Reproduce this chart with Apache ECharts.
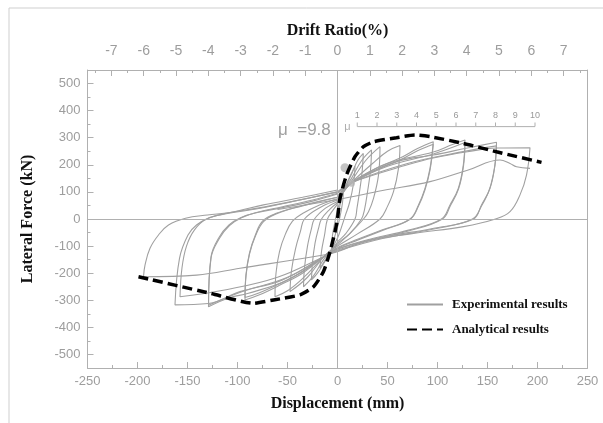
<!DOCTYPE html>
<html>
<head>
<meta charset="utf-8">
<script src="https://cdn.jsdelivr.net/npm/echarts@6/dist/echarts.min.js"></script>
<style>
  html, body { margin: 0; padding: 0; background: #fff; }
  #chart { width: 603px; height: 423px; }
</style>
</head>
<body>
<div id="chart"></div>
<script>
// axis scales
var forceMajor = [-500, -400, -300, -200, -100, 0, 100, 200, 300, 400, 500];
var forceMinor = [-450, -350, -250, -150, -50, 50, 150, 250, 350, 450];
var driftLabels = [-7, -6, -5, -4, -3, -2, -1, 0, 1, 2, 3, 4, 5, 6, 7];
var driftHalf = [-7.5, -6.5, -5.5, -4.5, -3.5, -2.5, -1.5, -0.5, 0.5, 1.5, 2.5, 3.5, 4.5, 5.5, 6.5, 7.5];
var mmPerDrift = 32.3;   // 1 % drift = 32.3 mm

// ductility scale
var muLabels = [1, 2, 3, 4, 5, 6, 7, 8, 9, 10];
var muYieldDisp = 19.75;
var muLevel = 341;

// experimental hysteresis loops [disp mm, force kN]
var loop0 = [[0, 0], [4, 80], [6, 110], [5, 60], [2, 0], [0, -30], [-4, -80], [-6, -110], [-5, -60], [-2, 0], [0, 35]];
var loop1 = [[0, 35], [8, 120], [17.5, 195], [16, 130], [12, 60], [8, 15], [4, -30], [0, -70], [-8, -125], [-17.5, -182],
  [-16, -120], [-13, -60], [-10, 0], [-5, 30], [0, 55]];
var loop2 = [[0, 55], [8, 120], [14, 165], [20, 215], [25.8, 242], [24.5, 170], [22, 100], [19.5, 40], [17.5, 0], [8, -55],
  [0, -85], [-8, -130], [-14, -165], [-20, -200], [-26, -225], [-25, -160], [-22.5, -90], [-19, -35], [-16, 0], [-8, 35], [0, 60]];
var loop3 = [[0, 60], [8, 115], [14, 150], [24, 215], [34, 255], [33, 180], [30, 100], [27, 35], [24, 0], [12, -55],
  [0, -90], [-8, -125], [-14, -150], [-24, -210], [-34, -250], [-33, -180], [-30, -100], [-26, -35], [-23, 0], [-12, 40], [0, 65]];
var loop4 = [[0, 65], [8, 110], [14, 140], [28, 215], [42.5, 267], [41, 162], [36, 76], [31, 27], [26, 0], [12, -55],
  [0, -95], [-8, -120], [-14, -140], [-30, -215], [-47.5, -268], [-46, -190], [-42, -110], [-37, -45], [-33, 0], [-16, 45], [0, 70]];
var loop5 = [[0, 70], [8, 110], [14, 135], [35, 205], [50, 250], [62.5, 271], [61, 187], [56, 101], [49, 39], [42.5, 0],
  [20, -55], [0, -100], [-8, -120], [-14, -140], [-35, -220], [-50, -265], [-62.5, -287], [-61.5, -200], [-58, -120],
  [-52, -55], [-45, -8], [-35, 20], [-18, 52], [0, 75]];
var loop6 = [[0, 75], [8, 110], [14, 135], [40, 190], [62.5, 225], [80, 260], [95.8, 285], [92.5, 187], [87.5, 113],
  [81, 52], [72.5, 0], [45, -40], [20, -75], [0, -105], [-8, -125], [-14, -140], [-35, -200], [-57.5, -244], [-78, -280],
  [-92.5, -299], [-91.5, -210], [-88, -130], [-82, -62], [-74, -10], [-62, 18], [-35, 50], [0, 80]];
var loop6b = [[0, 78], [14, 132], [40, 185], [62.5, 218], [80, 252], [95.8, 276], [92.5, 180], [87.5, 108], [81, 48],
  [73, 0], [45, -42], [20, -78], [0, -108], [-14, -140], [-35, -195], [-57.5, -238], [-78, -272], [-92.5, -290],
  [-91.5, -205], [-88, -125], [-82, -58], [-75, -8], [-62, 20], [-35, 48], [0, 80]];
var loop7 = [[0, 80], [8, 112], [14, 135], [50, 205], [95.8, 247], [115, 275], [127.5, 291.5], [125.8, 199], [120.8, 113],
  [112.5, 52], [104, 0], [70, -42], [35, -72], [0, -110], [-8, -128], [-14, -140], [-50, -225], [-90, -275], [-107.5, -290],
  [-129, -324], [-126.5, -145], [-118, -71], [-108, -24], [-96, 5], [-80, 25], [-55, 45], [-25, 70], [0, 95]];
var loop7b = [[0, 85], [14, 132], [50, 195], [95.8, 240], [127.5, 282], [126, 195], [121, 110], [113, 50], [105, 0],
  [70, -45], [35, -75], [0, -112], [-14, -140], [-50, -215], [-95, -268], [-129, -318], [-126.5, -140], [-118.5, -68],
  [-108.5, -22], [-97, 5], [-80, 24], [-55, 42], [-25, 66], [0, 92]];
var loop8 = [[0, 95], [8, 118], [14, 135], [60, 212], [95.8, 236], [130, 262], [159, 283], [157.5, 199], [152.5, 113],
  [144, 52], [136, 0], [95, -35], [45, -68], [0, -115], [-8, -130], [-14, -140], [-55, -225], [-97.5, -268], [-129, -312],
  [-162.5, -317], [-158, -145], [-149.5, -59], [-141, -22], [-128, 5], [-110, 22], [-80, 40], [-45, 65], [0, 100]];
var loop8b = [[0, 100], [14, 135], [70, 205], [120, 245], [159, 270], [157, 190], [152, 110], [144, 48], [135, 0],
  [95, -38], [45, -72], [0, -118], [-14, -140], [-60, -215], [-110, -260], [-157.5, -287], [-155.5, -180], [-151, -100],
  [-143, -40], [-131, 0], [-110, 20], [-80, 38], [-40, 68], [0, 100]];
var loop9 = [[0, 100], [8, 118], [14, 135], [70, 200], [95.8, 225], [130, 248], [159, 262], [192.5, 263], [189, 162],
  [182.5, 89], [172.5, 27], [158, 0], [126, -28], [76, -53], [26, -84], [0, -121], [-14, -133], [-97.5, -182],
  [-141, -207], [-194, -213], [-192.5, -170], [-187.5, -108], [-179, -59], [-169, -22], [-152, 3], [-130, 15],
  [-107.5, 24], [-74, 52], [-35, 80], [0, 107]];
var loop10 = [[-60, 35], [0, 72], [45, 105], [92.5, 138], [130, 180], [162.5, 218], [172.5, 205], [179, 193], [192.5, 187]];

var experimentalLoops = [loop0, loop1, loop2, loop3, loop4, loop5, loop6, loop6b, loop7, loop7b, loop8, loop8b, loop9, loop10];

// analytical backbone
var analytical = [[-199, -213], [-127.5, -274], [-84, -311], [-64, -299], [-37.5, -280], [-24, -250], [-14, -194],
  [-7.5, -121], [-2.5, -47], [0, 0], [2.5, 76], [9, 162], [17.5, 230], [26, 267], [36, 285], [59, 300], [77.5, 310],
  [92.5, 304], [126, 279], [159, 248], [204, 209]];

// yield markers
var yieldPoints = [[7.5, 189], [14, 132]];

var chart = echarts.init(document.getElementById('chart'));

var gray = '#a0a0a0';
var axisGray = '#b0b0b0';
var serif = '"Liberation Serif", "DejaVu Serif", serif';
var sans = 'Arial, "Liberation Sans", sans-serif';

var series = [];
experimentalLoops.forEach(function (lp, i) {
  series.push({
    name: 'Experimental results',
    type: 'line',
    data: lp,
    smooth: 0.4,
    symbol: 'none',
    z: 2,
    lineStyle: { color: gray, width: 1.1 },
    itemStyle: { color: gray },
    markLine: i === 0 ? {
      silent: true,
      symbol: 'none',
      label: { show: false },
      lineStyle: { color: axisGray, width: 1, type: 'solid' },
      data: [{ xAxis: 0 }, { yAxis: 0 }]
    } : undefined
  });
});

series.push({
  name: 'Analytical results',
  type: 'line',
  data: analytical,
  smooth: 0.2,
  symbol: 'none',
  z: 5,
  lineStyle: { color: '#000', width: 3.5, type: [10, 5] },
  itemStyle: { color: '#000' }
});

series.push({
  name: 'yield',
  type: 'scatter',
  data: yieldPoints,
  symbolSize: function (v, p) { return p.dataIndex === 0 ? 9 : 7; },
  itemStyle: { color: '#b5b5b5' },
  z: 4
});

// ductility scale
series.push({
  name: 'mu',
  type: 'line',
  data: muLabels.map(function (m) { return [m * muYieldDisp, muLevel]; }),
  symbol: 'rect',
  symbolSize: [1, 4],
  symbolOffset: [0, -2],
  lineStyle: { color: axisGray, width: 1 },
  itemStyle: { color: axisGray },
  label: {
    show: true,
    position: 'top',
    distance: 3,
    color: '#999',
    fontSize: 9,
    fontFamily: sans,
    formatter: function (p) { return muLabels[p.dataIndex]; }
  },
  z: 3
});
series.push({
  name: 'muSymbol',
  type: 'scatter',
  data: [[muYieldDisp * 0.5, muLevel]],
  symbolSize: 0,
  label: {
    show: true,
    position: 'inside',
    formatter: 'μ',
    color: '#999',
    fontSize: 11,
    fontFamily: sans
  }
});

var labelStyle = { color: '#9d9d9d', fontSize: 13, fontFamily: sans };

chart.setOption({
  animation: false,
  backgroundColor: '#fff',
  grid: { left: 87.5, right: 15.5, top: 70, bottom: 55 },
  graphic: [{
    type: 'rect',
    shape: { x: 9, y: 8, width: 700, height: 500 },
    style: { fill: 'none', stroke: '#cfcfcf', lineWidth: 1 },
    silent: true
  }, {
    type: 'text',
    left: 278,
    top: 122,
    style: { text: 'μ  =9.8', fill: '#a0a0a0', fontSize: 17, fontFamily: sans },
    silent: true
  }],
  legend: {
    data: ['Experimental results', 'Analytical results'],
    orient: 'vertical',
    left: 401,
    top: 293,
    itemWidth: 36,
    itemHeight: 14,
    itemGap: 12,
    itemStyle: { opacity: 0 },
    textStyle: { color: '#111', fontFamily: serif, fontWeight: 'bold', fontSize: 13, padding: [0, 0, 0, 4] }
  },
  xAxis: [{
    type: 'value',
    min: -250,
    max: 250,
    interval: 50,
    position: 'bottom',
    name: 'Displacement (mm)',
    nameLocation: 'middle',
    nameGap: 28,
    nameTextStyle: { color: '#111', fontFamily: serif, fontWeight: 'bold', fontSize: 16 },
    axisLine: { onZero: false, lineStyle: { color: axisGray } },
    axisTick: { inside: true, length: 6, lineStyle: { color: axisGray } },
    minorTick: { show: true, splitNumber: 2, length: 3, lineStyle: { color: axisGray } },
    axisLabel: Object.assign({ margin: 7 }, labelStyle),
    splitLine: { show: false }
  }, {
    type: 'value',
    min: -250 / mmPerDrift,
    max: 250 / mmPerDrift,
    position: 'top',
    name: 'Drift Ratio(%)',
    nameLocation: 'middle',
    nameGap: 31,
    nameTextStyle: { color: '#111', fontFamily: serif, fontWeight: 'bold', fontSize: 16 },
    axisLine: { onZero: false, lineStyle: { color: axisGray } },
    axisTick: { inside: true, length: 6, customValues: driftLabels, lineStyle: { color: axisGray } },
    axisLabel: { margin: 12, customValues: driftLabels, fontSize: 14, color: labelStyle.color, fontFamily: sans },
    splitLine: { show: false }
  }, {
    type: 'value',
    min: -250 / mmPerDrift,
    max: 250 / mmPerDrift,
    position: 'top',
    axisLine: { show: false, onZero: false },
    axisTick: { inside: true, length: 3, customValues: driftHalf, lineStyle: { color: axisGray } },
    axisLabel: { show: false },
    splitLine: { show: false }
  }],
  yAxis: [{
    type: 'value',
    min: -550,
    max: 550,
    position: 'left',
    name: 'Lateral Force (kN)',
    nameLocation: 'middle',
    nameGap: 52,
    nameTextStyle: { color: '#111', fontFamily: serif, fontWeight: 'bold', fontSize: 16 },
    axisLine: { show: true, onZero: false, lineStyle: { color: axisGray } },
    axisTick: { show: true, inside: true, length: 6, customValues: forceMajor, lineStyle: { color: axisGray } },
    axisLabel: Object.assign({ margin: 7, customValues: forceMajor }, labelStyle),
    splitLine: { show: false }
  }, {
    type: 'value',
    min: -550,
    max: 550,
    position: 'right',
    axisLine: { show: true, onZero: false, lineStyle: { color: axisGray } },
    axisTick: { show: false },
    axisLabel: { show: false },
    splitLine: { show: false }
  }, {
    type: 'value',
    min: -550,
    max: 550,
    position: 'left',
    axisLine: { show: false, onZero: false },
    axisTick: { show: true, inside: true, length: 3, customValues: forceMinor, lineStyle: { color: axisGray } },
    axisLabel: { show: false },
    splitLine: { show: false }
  }],
  series: series
});
</script>
</body>
</html>
